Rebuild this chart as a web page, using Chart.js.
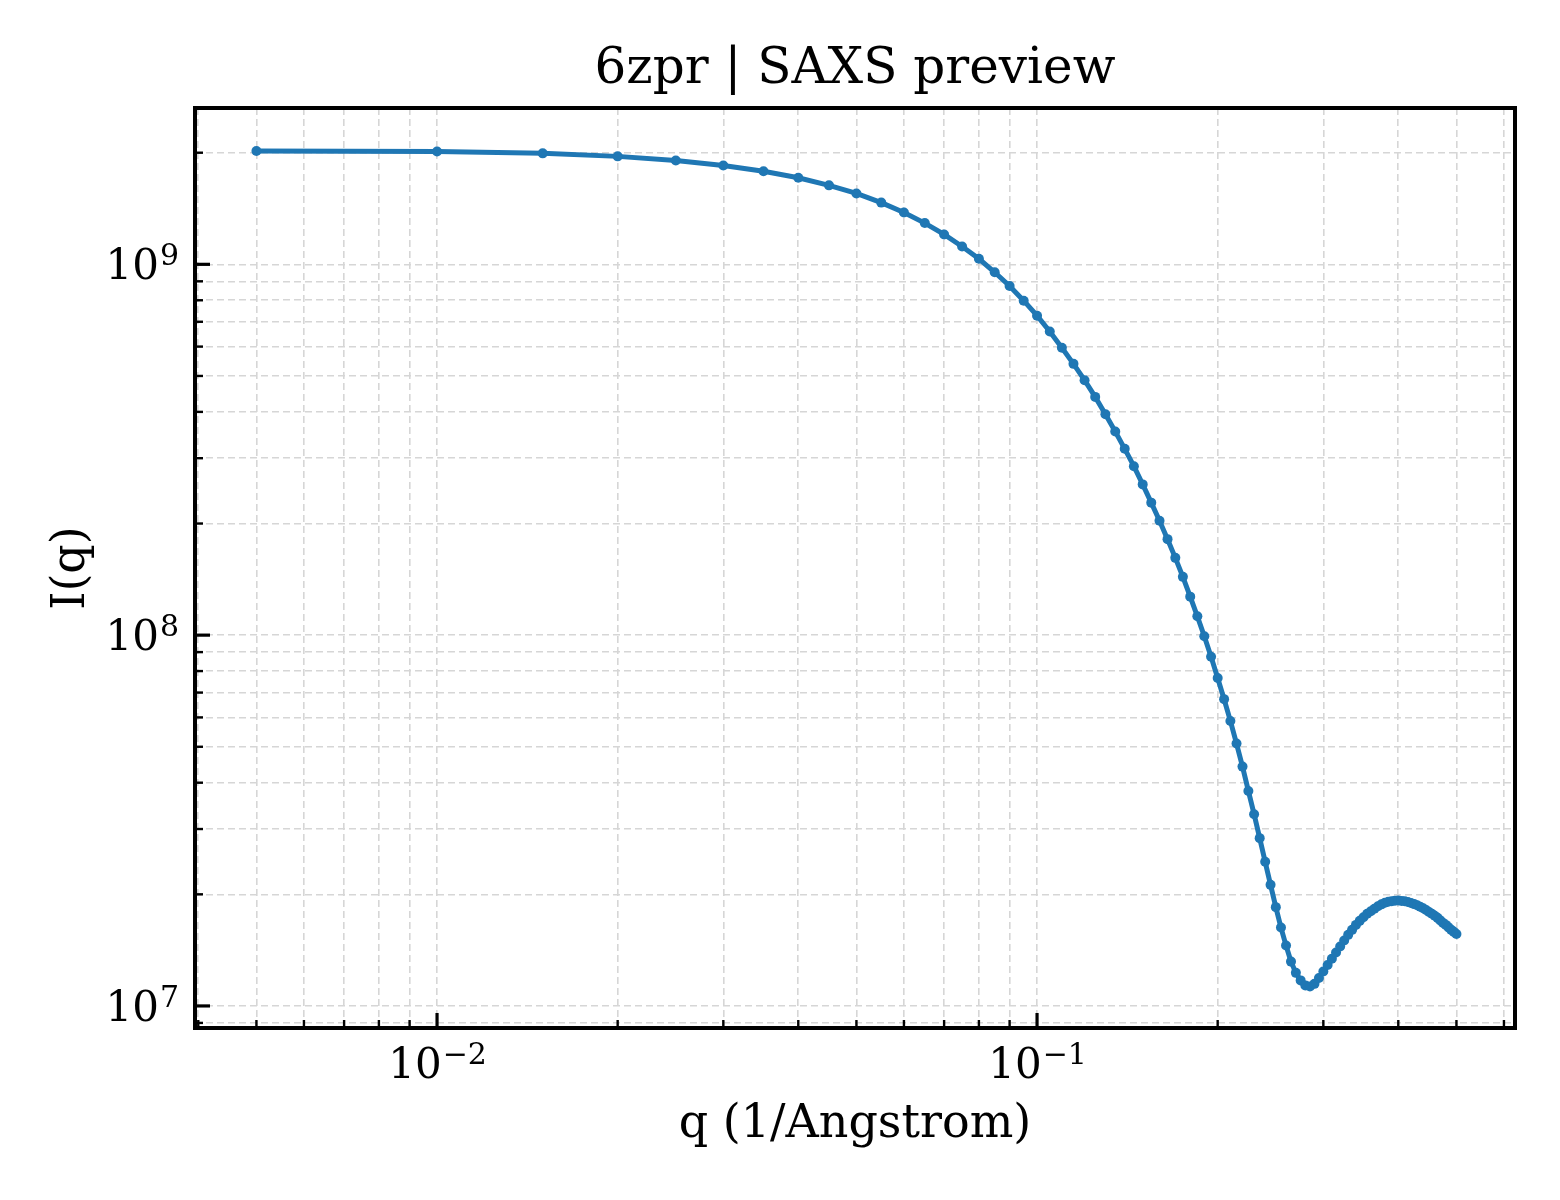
<!DOCTYPE html>
<html>
<head>
<meta charset="utf-8">
<title>6zpr | SAXS preview</title>
<script src="https://cdn.jsdelivr.net/npm/chart.js@4.4.1/dist/chart.umd.min.js"></script>
<style>
  html, body { margin: 0; padding: 0; background: #fff; }
  #saxsChart { display: block; }
</style>
</head>
<body>
<canvas id="saxsChart" width="1560" height="1200" style="width:1560px;height:1200px"></canvas>
<script>
// q (1/Angstrom), one point every 0.005
const qValues = [
    0.005, 0.010, 0.015, 0.020, 0.025, 0.030, 0.035, 0.040, 0.045, 0.050,
    0.055, 0.060, 0.065, 0.070, 0.075, 0.080, 0.085, 0.090, 0.095, 0.100,
    0.105, 0.110, 0.115, 0.120, 0.125, 0.130, 0.135, 0.140, 0.145, 0.150,
    0.155, 0.160, 0.165, 0.170, 0.175, 0.180, 0.185, 0.190, 0.195, 0.200,
    0.205, 0.210, 0.215, 0.220, 0.225, 0.230, 0.235, 0.240, 0.245, 0.250,
    0.255, 0.260, 0.265, 0.270, 0.275, 0.280, 0.285, 0.290, 0.295, 0.300,
    0.305, 0.310, 0.315, 0.320, 0.325, 0.330, 0.335, 0.340, 0.345, 0.350,
    0.355, 0.360, 0.365, 0.370, 0.375, 0.380, 0.385, 0.390, 0.395, 0.400,
    0.405, 0.410, 0.415, 0.420, 0.425, 0.430, 0.435, 0.440, 0.445, 0.450,
    0.455, 0.460, 0.465, 0.470, 0.475, 0.480, 0.485, 0.490, 0.495, 0.500
];

// I(q)
const intensity = [
    2.022e9, 2.015e9, 1.992e9, 1.955e9, 1.905e9, 1.848e9, 1.782e9, 1.712e9, 1.633e9, 1.553e9,
    1.467e9, 1.380e9, 1.292e9, 1.204e9, 1.117e9, 1.035e9, 9.52e8, 8.74e8, 7.98e8, 7.27e8,
    6.59e8, 5.96e8, 5.39e8, 4.87e8, 4.39e8, 3.94e8, 3.54e8, 3.18e8, 2.855e8, 2.550e8,
    2.277e8, 2.035e8, 1.815e8, 1.616e8, 1.436e8, 1.270e8, 1.124e8, 9.93e7, 8.74e7, 7.66e7,
    6.72e7, 5.87e7, 5.10e7, 4.42e7, 3.80e7, 3.29e7, 2.835e7, 2.447e7, 2.121e7, 1.847e7,
    1.627e7, 1.455e7, 1.317e7, 1.228e7, 1.172e7, 1.136e7, 1.129e7, 1.147e7, 1.190e7, 1.239e7,
    1.290e7, 1.340e7, 1.394e7, 1.447e7, 1.502e7, 1.555e7, 1.604e7, 1.654e7, 1.696e7, 1.734e7,
    1.772e7, 1.800e7, 1.828e7, 1.857e7, 1.879e7, 1.897e7, 1.909e7, 1.917e7, 1.923e7, 1.924e7,
    1.920e7, 1.915e7, 1.906e7, 1.895e7, 1.882e7, 1.868e7, 1.852e7, 1.834e7, 1.814e7, 1.793e7,
    1.772e7, 1.750e7, 1.728e7, 1.701e7, 1.675e7, 1.654e7, 1.629e7, 1.604e7, 1.584e7, 1.564e7
];

// axis ticks (log decades + minor ticks); decade labels are drawn as 10^exp
const xMajorTicks = [0.01, 0.1];
const xTickExponents = ['\u22122', '\u22121'];
const xMinorTicks = [0.004, 0.005, 0.006, 0.007, 0.008, 0.009,
                     0.02, 0.03, 0.04, 0.05, 0.06, 0.07, 0.08, 0.09,
                     0.2, 0.3, 0.4, 0.5, 0.6];
const yMajorTicks = [1e7, 1e8, 1e9];
const yTickExponents = ['7', '8', '9'];
const yMinorTicks = [9e6,
                     2e7, 3e7, 4e7, 5e7, 6e7, 7e7, 8e7, 9e7,
                     2e8, 3e8, 4e8, 5e8, 6e8, 7e8, 8e8, 9e8,
                     2e9];

const FONT = 'DejaVu Serif';
const LINE_COLOR = '#1f77b4';
const GRID_COLOR = '#d6d6d6';
const TICK_SIZE = 42;
const EXP_SIZE = 30;

function tickList(majors, minors) {
    return majors.map(v => ({ value: v, major: true }))
        .concat(minors.map(v => ({ value: v, major: false })))
        .sort((a, b) => a.value - b.value);
}

// matplotlib-ish frame, inward tick marks and 10^n labels
const frameAndTicks = {
    id: 'frameAndTicks',
    afterDatasetsDraw(chart) {
        const { ctx, chartArea, scales } = chart;
        const { left, right, top, bottom } = chartArea;
        ctx.save();
        ctx.strokeStyle = '#000';
        ctx.lineCap = 'butt';

        const stroke = (x1, y1, x2, y2, w) => {
            ctx.lineWidth = w;
            ctx.beginPath();
            ctx.moveTo(x1, y1);
            ctx.lineTo(x2, y2);
            ctx.stroke();
        };

        xMinorTicks.forEach(v => {
            const px = scales.x.getPixelForValue(v);
            stroke(px, bottom, px, bottom - 8, 2.4);
        });
        xMajorTicks.forEach(v => {
            const px = scales.x.getPixelForValue(v);
            stroke(px, bottom, px, bottom - 15, 3.2);
        });
        yMinorTicks.forEach(v => {
            const py = scales.y.getPixelForValue(v);
            stroke(left, py, left + 8, py, 2.4);
        });
        yMajorTicks.forEach(v => {
            const py = scales.y.getPixelForValue(v);
            stroke(left, py, left + 15, py, 3.2);
        });

        ctx.lineWidth = 4;
        ctx.strokeRect(left, top, right - left, bottom - top);

        // decade labels
        ctx.fillStyle = '#000';
        ctx.textBaseline = 'alphabetic';
        const baseFont = TICK_SIZE + 'px "' + FONT + '"';
        const expFont = EXP_SIZE + 'px "' + FONT + '"';
        const measure = (text, font) => { ctx.font = font; return ctx.measureText(text).width; };

        xMajorTicks.forEach((v, i) => {
            const px = scales.x.getPixelForValue(v);
            const wBase = measure('10', baseFont);
            const wExp = measure(xTickExponents[i], expFont);
            const x0 = px - (wBase + wExp) / 2;
            const baseline = bottom + 50;
            ctx.textAlign = 'left';
            ctx.font = baseFont;
            ctx.fillText('10', x0, baseline);
            ctx.font = expFont;
            ctx.fillText(xTickExponents[i], x0 + wBase + 1, baseline - 14);
        });

        yMajorTicks.forEach((v, i) => {
            const py = scales.y.getPixelForValue(v);
            const wExp = measure(yTickExponents[i], expFont);
            const xRight = left - 16;
            const baseline = py + 15;
            ctx.textAlign = 'right';
            ctx.font = expFont;
            ctx.fillText(yTickExponents[i], xRight, baseline - 14);
            ctx.font = baseFont;
            ctx.fillText('10', xRight - wExp - 1, baseline);
        });

        ctx.restore();
    }
};

const ctx = document.getElementById('saxsChart').getContext('2d');
const saxsChart = new Chart(ctx, {
    type: 'line',
    data: {
        datasets: [{
            label: 'I(q)',
            data: qValues.map((q, i) => ({ x: q, y: intensity[i] })),
            borderColor: LINE_COLOR,
            backgroundColor: LINE_COLOR,
            borderWidth: 5,
            pointRadius: 5,
            pointBorderWidth: 0,
            pointBackgroundColor: LINE_COLOR,
            tension: 0,
            fill: false
        }]
    },
    options: {
        responsive: false,
        animation: false,
        devicePixelRatio: 1,
        layout: {
            padding: { left: 0, right: 45, top: 0, bottom: 0 }
        },
        plugins: {
            legend: { display: false },
            tooltip: { enabled: false },
            title: {
                display: true,
                fullSize: false,
                text: '6zpr | SAXS preview',
                color: '#000',
                font: { family: FONT, size: 50, weight: 'normal', lineHeight: 1.2 },
                padding: { top: 40, bottom: 8 }
            }
        },
        scales: {
            x: {
                type: 'logarithmic',
                position: 'bottom',
                min: 0.00395,
                max: 0.626,
                afterBuildTicks: scale => {
                    scale.ticks = tickList(xMajorTicks, xMinorTicks);
                },
                afterFit: scale => {
                    scale.height = 172;
                    scale.paddingLeft = 0;
                    scale.paddingRight = 0;
                },
                ticks: { display: false, autoSkip: false, maxRotation: 0 },
                grid: {
                    color: GRID_COLOR,
                    lineWidth: 1.6,
                    drawTicks: false
                },
                border: { display: false, dash: [7, 4] },
                title: {
                    display: true,
                    text: 'q (1/Angstrom)',
                    color: '#000',
                    font: { family: FONT, size: 46, lineHeight: 1.2 },
                    padding: { top: 0, bottom: 47 }
                }
            },
            y: {
                type: 'logarithmic',
                position: 'left',
                min: 8.72e6,
                max: 2.64e9,
                afterBuildTicks: scale => {
                    scale.ticks = tickList(yMajorTicks, yMinorTicks);
                },
                afterFit: scale => {
                    scale.width = 195;
                    scale.paddingTop = 0;
                    scale.paddingBottom = 0;
                },
                ticks: { display: false, autoSkip: false },
                grid: {
                    color: GRID_COLOR,
                    lineWidth: 1.6,
                    drawTicks: false
                },
                border: { display: false, dash: [7, 4] },
                title: {
                    display: true,
                    text: 'I(q)',
                    color: '#000',
                    font: { family: FONT, size: 46, lineHeight: 1.2 },
                    padding: { top: 44, bottom: 0 }
                }
            }
        }
    },
    plugins: [frameAndTicks]
});
</script>
</body>
</html>
